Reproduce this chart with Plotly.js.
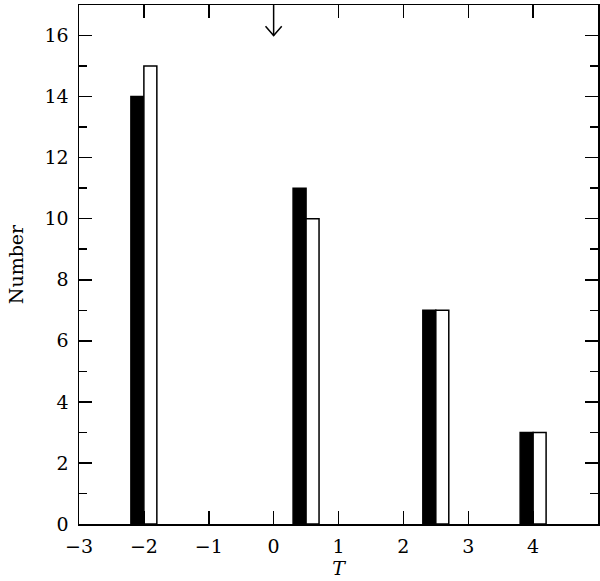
<!DOCTYPE html>
<html>
<head>
<meta charset="utf-8">
<script src="https://cdn.plot.ly/plotly-3.0.1.min.js"></script>
<style>html,body{margin:0;padding:0;background:#fff;}#chart{width:600px;height:581px;}</style>
</head>
<body>
<div id="chart"></div>
<script>
// Data
const blackX = [-2.1, 0.4, 2.4, 3.9];
const blackY = [14, 11, 7, 3];
const whiteX = [-1.9, 0.6, 2.6, 4.1];
const whiteY = [15, 10, 7, 3];
const barWidth = 0.2;
const xTickVals = [-3, -2, -1, 0, 1, 2, 3, 4];
const yTickVals = [0, 2, 4, 6, 8, 10, 12, 14, 16];
const arrowX = 0;
const arrowTop = 17;
const arrowTip = 16;

const headDx = 0.125, headDy = 0.3;
const font = {family: 'DejaVu Serif', size: 19, color: '#000'};

const traces = [
  {type: 'bar', x: blackX, y: blackY, width: barWidth,
   marker: {color: '#000', line: {color: '#000', width: 1.5}}, hoverinfo: 'none'},
  {type: 'bar', x: whiteX, y: whiteY, width: barWidth,
   marker: {color: '#fff', line: {color: '#000', width: 1.5}}, hoverinfo: 'none'},
  {type: 'scatter', mode: 'lines', x: [arrowX, arrowX], y: [arrowTop, arrowTip],
   line: {color: '#000', width: 1.5}, hoverinfo: 'none'},
  {type: 'scatter', mode: 'lines',
   x: [arrowX - headDx, arrowX, arrowX + headDx],
   y: [arrowTip + headDy, arrowTip, arrowTip + headDy],
   line: {color: '#000', width: 1.5}, hoverinfo: 'none'}
];

const layout = {
  width: 600, height: 581,
  margin: {l: 79, r: 2, t: 5, b: 57},
  showlegend: false,
  barmode: 'overlay',
  paper_bgcolor: '#fff', plot_bgcolor: '#fff',
  font: font,
  xaxis: {
    range: [-3, 5], tickvals: xTickVals, ticks: 'inside', ticklen: 13, tickwidth: 1.5,
    tickcolor: '#000', showline: true, linecolor: '#000', linewidth: 1.5, mirror: 'ticks',
    showgrid: false, zeroline: false, tickfont: font, ticklabelstandoff: 5,
    title: {text: '<i>T</i>', font: font, standoff: 4}
  },
  yaxis: {
    range: [0, 17], tickvals: yTickVals, ticks: 'inside', ticklen: 13, tickwidth: 1.5,
    tickcolor: '#000', showline: true, linecolor: '#000', linewidth: 1.5, mirror: 'ticks',
    showgrid: false, zeroline: false, tickfont: font, ticklabelstandoff: 5,
    minor: {dtick: 1, tick0: 0, ticks: 'inside', ticklen: 8, tickwidth: 1.5, tickcolor: '#000', showgrid: false},
    title: {text: 'Number', font: font, standoff: 16}
  }
};

Plotly.newPlot('chart', traces, layout, {staticPlot: true});
</script>
</body>
</html>
